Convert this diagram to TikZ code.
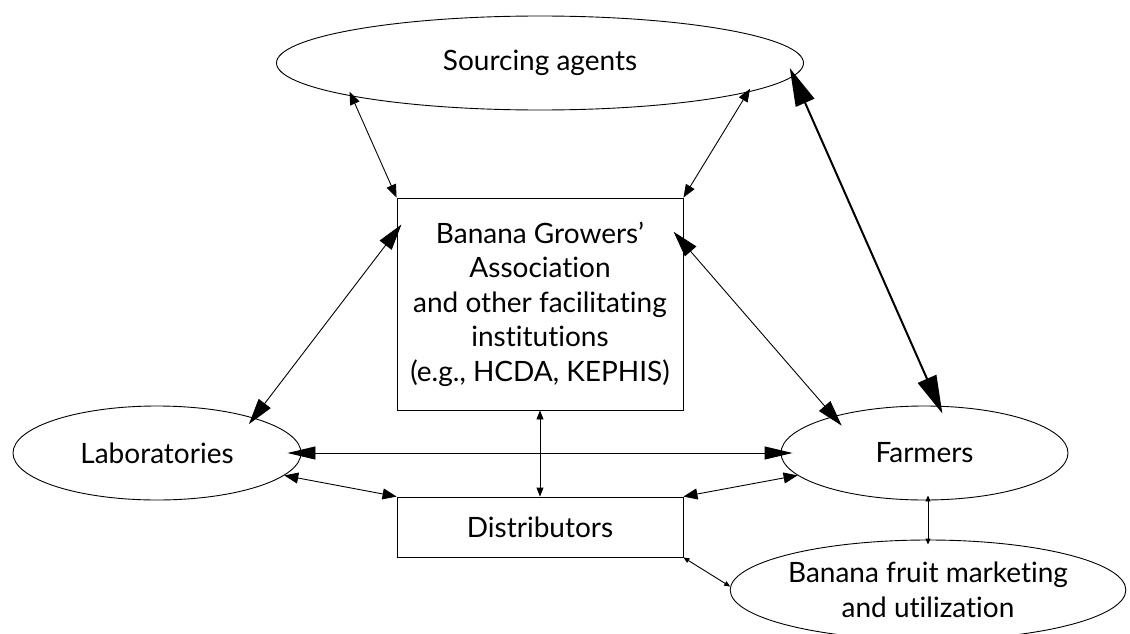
\documentclass[tikz,border=0pt]{standalone}
\usepackage{fontspec}
\setmainfont{Lato}[Ligatures=NoCommon]
\usetikzlibrary{arrows.meta,shapes.geometric}
\tikzset{
  sTip/.tip={Triangle[length=13pt,width=10pt]},
  mTip/.tip={Triangle[length=26pt,width=15pt]},
  bTip/.tip={Triangle[length=38pt,width=20pt]},
  hTip/.tip={Triangle[length=28pt,width=13pt]},
  dTip/.tip={Triangle[length=14pt,width=11pt]},
  vTip/.tip={Triangle[length=9pt,width=7pt]},
  tTip/.tip={Triangle[length=6pt,width=5pt]},
}
\begin{document}
\begin{tikzpicture}[x=1pt,y=-1pt,
  every node/.style={font=\fontsize{28}{34.5}\selectfont, align=center, inner sep=0pt},
  ell/.style={draw, ellipse, line width=0.9pt},
  boxnode/.style={draw, rectangle, line width=0.9pt},
  con/.style={line width=0.9pt},
  thick con/.style={line width=2pt}]
\useasboundingbox (0,0) rectangle (1130,634);
\node[ell, minimum width=527pt, minimum height=94pt] (src) at (540,63) {Sourcing agents};
\node[boxnode, minimum width=286pt, minimum height=212pt] (bga) at (540,304) {Banana Growers’\\Association\\and other facilitating\\institutions\\(e.g., HCDA, KEPHIS)};
\node[ell, minimum width=288pt, minimum height=94pt] (lab) at (157,453) {Laboratories};
\node[ell, minimum width=287pt, minimum height=94pt] (farm) at (924.5,453) {Farmers};
\node[boxnode, minimum width=286pt, minimum height=60pt] (dist) at (540,527) {Distributors};
\node[ell, minimum width=394pt, minimum height=100pt] (ban) at (928,590) {Banana fruit marketing\\and utilization};

\draw[con, sTip-sTip, shorten <=-5pt] (src.-170.5) -- (bga.north west);
\draw[con, sTip-sTip, shorten <=-4pt] (src.-8.6) -- (bga.north east);
\draw[thick con, bTip-bTip, shorten <=-9pt, shorten >=-8.5pt] (src.-3.7) -- (farm.73.4);
\draw[con, mTip-mTip, shorten <=-8pt, shorten >=-8pt] (bga.153.7) -- (lab.20.2);
\draw[con, mTip-mTip, shorten <=-15pt, shorten >=-12.5pt] (bga.23.6) -- (farm.158.1);
\draw[con, hTip-hTip, shorten <=-14pt, shorten >=-12pt] (lab.0) -- (farm.180);
\draw[con, dTip-dTip] (lab.-10.3) -- (dist.north west);
\draw[con, dTip-dTip] (farm.-170.2) -- (dist.north east);
\draw[con, vTip-vTip] (bga.south) -- (dist.north);
\draw[con, tTip-tTip, shorten <=-5pt, shorten >=-5pt] (ban.north |- farm.south) -- (ban.north);
\draw[con, tTip-tTip] (dist.south east) -- (ban.179.4);
\end{tikzpicture}
\end{document}
